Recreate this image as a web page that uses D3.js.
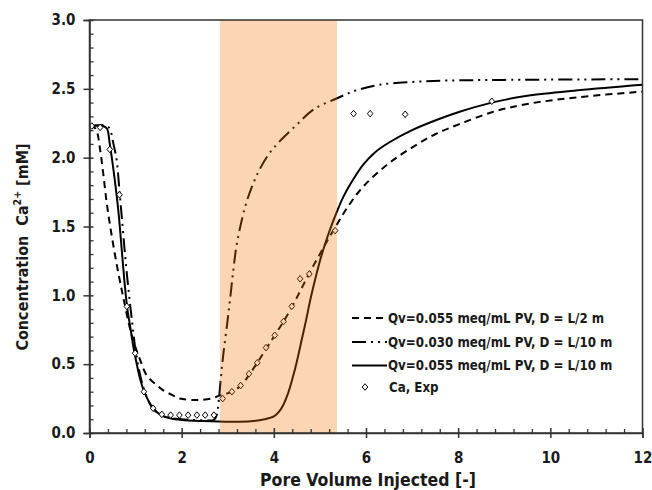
<!DOCTYPE html>
<html><head><meta charset="utf-8">
<script src="https://cdn.jsdelivr.net/npm/d3@7"></script>
<style>
html,body{margin:0;padding:0;background:#fff;}
svg{display:block;}
text{font-family:"DejaVu Sans Condensed","DejaVu Sans",sans-serif;font-stretch:condensed;font-weight:bold;fill:#1a1a1a;}
</style></head>
<body>
<svg id="chart" width="652" height="490"></svg>
<script>
// ---- data ----
const xTicks = [0, 2, 4, 6, 8, 10, 12];
const yTicks = [0.0, 0.5, 1.0, 1.5, 2.0, 2.5, 3.0];
const shadeRange = [2.83, 5.37];

// Qv=0.055 meq/mL PV, D = L/2 m (dashed)
const dashedX = [0, 0.1, 0.16, 0.23, 0.3, 0.37, 0.45, 0.55, 0.65, 0.73, 0.85, 0.95, 1.1, 1.24, 1.45, 1.6, 1.8, 1.96, 2.33, 2.65, 2.8, 2.9, 3.1, 3.3, 3.46, 3.64, 3.83, 4.02, 4.21, 4.4, 4.6, 4.8, 5.0, 5.2, 5.36, 5.6, 5.94, 6.5, 7.03, 7.5, 8.0, 8.73, 9.5, 10.64, 12];
const dashedY = [2.23, 2.22, 2.19, 2.06, 1.88, 1.68, 1.5, 1.3, 1.12, 0.99, 0.8, 0.67, 0.53, 0.42, 0.35, 0.31, 0.275, 0.25, 0.24, 0.25, 0.27, 0.28, 0.30, 0.35, 0.42, 0.51, 0.61, 0.71, 0.81, 0.92, 1.05, 1.18, 1.30, 1.42, 1.51, 1.64, 1.79, 1.96, 2.08, 2.17, 2.24, 2.33, 2.39, 2.44, 2.48];

// Qv=0.030 meq/mL PV, D = L/10 m (dash-dot-dot)
const dashDotX = [0, 0.38, 0.45, 0.52, 0.59, 0.65, 0.7, 0.77, 0.84, 0.92, 1.0, 1.1, 1.2, 1.35, 1.5, 1.75, 2.0, 2.5, 2.7, 2.76, 2.8, 2.84, 2.9, 2.99, 3.05, 3.12, 3.19, 3.3, 3.41, 3.55, 3.7, 3.9, 4.13, 4.5, 4.86, 5.36, 5.8, 6.3, 7.0, 7.75, 9.0, 12];
const dashDotY = [2.23, 2.23, 2.2, 2.1, 1.98, 1.76, 1.57, 1.3, 1.06, 0.82, 0.6, 0.42, 0.3, 0.19, 0.14, 0.11, 0.1, 0.092, 0.096, 0.13, 0.22, 0.36, 0.56, 0.8, 0.97, 1.18, 1.36, 1.54, 1.68, 1.81, 1.92, 2.03, 2.12, 2.24, 2.35, 2.43, 2.49, 2.53, 2.55, 2.56, 2.565, 2.57];

// Qv=0.055 meq/mL PV, D = L/10 m (solid)
const solidX = [0, 0.3, 0.38, 0.44, 0.54, 0.63, 0.7, 0.77, 0.83, 0.88, 0.95, 1.02, 1.1, 1.2, 1.38, 1.55, 1.75, 2.0, 2.47, 3.05, 3.5, 3.8, 4.0, 4.1, 4.2, 4.3, 4.4, 4.5, 4.6, 4.7, 4.8, 4.9, 5.0, 5.1, 5.2, 5.36, 5.5, 5.7, 5.94, 6.2, 6.5, 7.0, 7.5, 8.0, 8.73, 9.5, 10.6, 12];
const solidY = [2.23, 2.23, 2.21, 2.1, 1.86, 1.6, 1.33, 1.06, 0.88, 0.78, 0.63, 0.51, 0.39, 0.29, 0.18, 0.13, 0.107, 0.095, 0.087, 0.082, 0.085, 0.1, 0.12, 0.15, 0.2, 0.28, 0.39, 0.52, 0.67, 0.82, 0.98, 1.12, 1.25, 1.36, 1.46, 1.6, 1.71, 1.83, 1.95, 2.04, 2.11, 2.2, 2.27, 2.33, 2.40, 2.45, 2.49, 2.53];

// Ca, Exp (diamonds)
const expX = [0.05, 0.23, 0.44, 0.65, 0.81, 0.99, 1.18, 1.38, 1.57, 1.76, 1.95, 2.14, 2.33, 2.51, 2.70, 2.89, 3.09, 3.28, 3.46, 3.64, 3.83, 4.02, 4.21, 4.39, 4.57, 4.77, 5.33, 5.73, 6.09, 6.85, 8.73];
const expY = [2.23, 2.22, 2.06, 1.73, 0.92, 0.58, 0.30, 0.18, 0.135, 0.13, 0.13, 0.13, 0.13, 0.13, 0.13, 0.25, 0.30, 0.345, 0.43, 0.51, 0.62, 0.71, 0.81, 0.92, 1.12, 1.155, 1.47, 2.32, 2.32, 2.315, 2.41];

const legendLabels = ["Qv=0.055 meq/mL PV, D = L/2 m", "Qv=0.030 meq/mL PV, D = L/10 m", "Qv=0.055 meq/mL PV, D = L/10 m", "Ca, Exp"];
const xTitle = "Pore Volume Injected [-]";

// ---- chart ----
const svg = d3.select("#chart");
const x = d3.scaleLinear().domain([0, 12]).range([89.5, 642.5]);
const y = d3.scaleLinear().domain([0, 3]).range([433, 20]);

const DASH = "7,5";
const DASHDOT = "14,5,2,5,2,5";

const series = [
  {xs: dashedX, ys: dashedY, dash: DASH},
  {xs: dashDotX, ys: dashDotY, dash: DASHDOT},
  {xs: solidX, ys: solidY, dash: null}
];
const line = d3.line().x(d => x(d[0])).y(d => y(d[1])).curve(d3.curveCatmullRom.alpha(0.5));

const plot = svg.append("g");
series.forEach(s => {
  const pts = s.xs.map((v, i) => [v, s.ys[i]]);
  plot.append("path").datum(pts).attr("d", line)
    .attr("fill", "none").attr("stroke", "#000").attr("stroke-width", 2)
    .attr("stroke-dasharray", s.dash);
});

const diamond = "M0,-3.3L2.8,0L0,3.3L-2.8,0Z";
plot.selectAll(".exp").data(expX.map((v, i) => [v, expY[i]])).enter()
  .append("path").attr("class", "exp").attr("d", diamond)
  .attr("transform", d => `translate(${x(d[0])},${y(d[1])})`)
  .attr("fill", "#fff").attr("stroke", "#000").attr("stroke-width", 1);

// shaded band (translucent overlay)
svg.append("rect")
  .attr("x", x(shadeRange[0])).attr("width", x(shadeRange[1]) - x(shadeRange[0]))
  .attr("y", y(3)).attr("height", y(0) - y(3))
  .attr("fill", "rgb(245,115,5)").attr("fill-opacity", 0.3);

// frame
svg.append("rect").attr("x", x(0)).attr("y", y(3)).attr("width", x(12) - x(0)).attr("height", y(0) - y(3))
  .attr("fill", "none").attr("stroke", "#333").attr("stroke-width", 1.5);

// x axis
const xMinor = d3.range(0, 12.001, 0.4).filter(v => Math.abs(v / 2 - Math.round(v / 2)) > 1e-6);
const gx = svg.append("g").attr("transform", `translate(0,${y(0)})`);
gx.call(d3.axisBottom(x).tickValues(xMinor).tickSize(4).tickFormat(""))
  .call(g => g.select(".domain").remove())
  .call(g => g.selectAll("line").attr("y1", 0).attr("y2", -4).attr("stroke", "#333").attr("stroke-width", 1.3));
const gx2 = svg.append("g").attr("transform", `translate(0,${y(0)})`);
gx2.call(d3.axisBottom(x).tickValues(xTicks).tickSize(5).tickPadding(14).tickFormat(d3.format("d")))
  .call(g => g.select(".domain").attr("stroke", "#333").attr("stroke-width", 1.5))
  .call(g => g.selectAll("line").attr("y1", -5).attr("y2", 5).attr("stroke", "#333").attr("stroke-width", 1.5))
  .call(g => g.selectAll("text").attr("font-size", 15).attr("font-family", null).attr("fill", "#1a1a1a"));

// y axis
const yMinor = d3.range(0, 3.001, 0.1).filter(v => Math.abs(v * 2 - Math.round(v * 2)) > 1e-6);
const gy = svg.append("g").attr("transform", `translate(${x(0)},0)`);
gy.call(d3.axisLeft(y).tickValues(yMinor).tickSize(4).tickFormat(""))
  .call(g => g.select(".domain").remove())
  .call(g => g.selectAll("line").attr("x1", 0).attr("x2", 4).attr("stroke", "#333").attr("stroke-width", 1.3));
const gy2 = svg.append("g").attr("transform", `translate(${x(0)},0)`);
gy2.call(d3.axisLeft(y).tickValues(yTicks).tickSize(6).tickPadding(8).tickFormat(d3.format(".1f")))
  .call(g => g.select(".domain").attr("stroke", "#333").attr("stroke-width", 1.5))
  .call(g => g.selectAll("line").attr("x1", -6).attr("x2", 4).attr("stroke", "#333").attr("stroke-width", 1.5))
  .call(g => g.selectAll("text").attr("font-size", 15).attr("font-family", null).attr("fill", "#1a1a1a"));

// axis titles
svg.append("text").attr("x", (x(0) + x(12)) / 2 + 2).attr("y", 486).attr("text-anchor", "middle")
  .attr("font-size", 17.5).text(xTitle);

const yt = svg.append("text").attr("transform", "translate(28,247) rotate(-90)")
  .attr("text-anchor", "middle").attr("font-size", 16);
yt.append("tspan").text("Concentration  Ca");
yt.append("tspan").attr("font-size", 10.5).attr("dy", -7).text("2+");
yt.append("tspan").attr("dy", 7).text(" [mM]");
yt.style("white-space", "pre");

// legend
const legY = [318, 342, 365.5, 387];
const lg = svg.append("g");
[DASH, DASHDOT, null].forEach((d, i) => {
  lg.append("line").attr("x1", 352).attr("x2", 387).attr("y1", legY[i]).attr("y2", legY[i])
    .attr("stroke", "#000").attr("stroke-width", 2).attr("stroke-dasharray", d);
});
lg.append("path").attr("d", diamond).attr("transform", `translate(365,${legY[3]})`)
  .attr("fill", "#fff").attr("stroke", "#000").attr("stroke-width", 1);
legendLabels.forEach((t, i) => {
  lg.append("text").attr("x", i === 3 ? 389 : 388).attr("y", legY[i] + 4.5)
    .attr("font-size", 13.2).text(t);
});
</script>
</body></html>
